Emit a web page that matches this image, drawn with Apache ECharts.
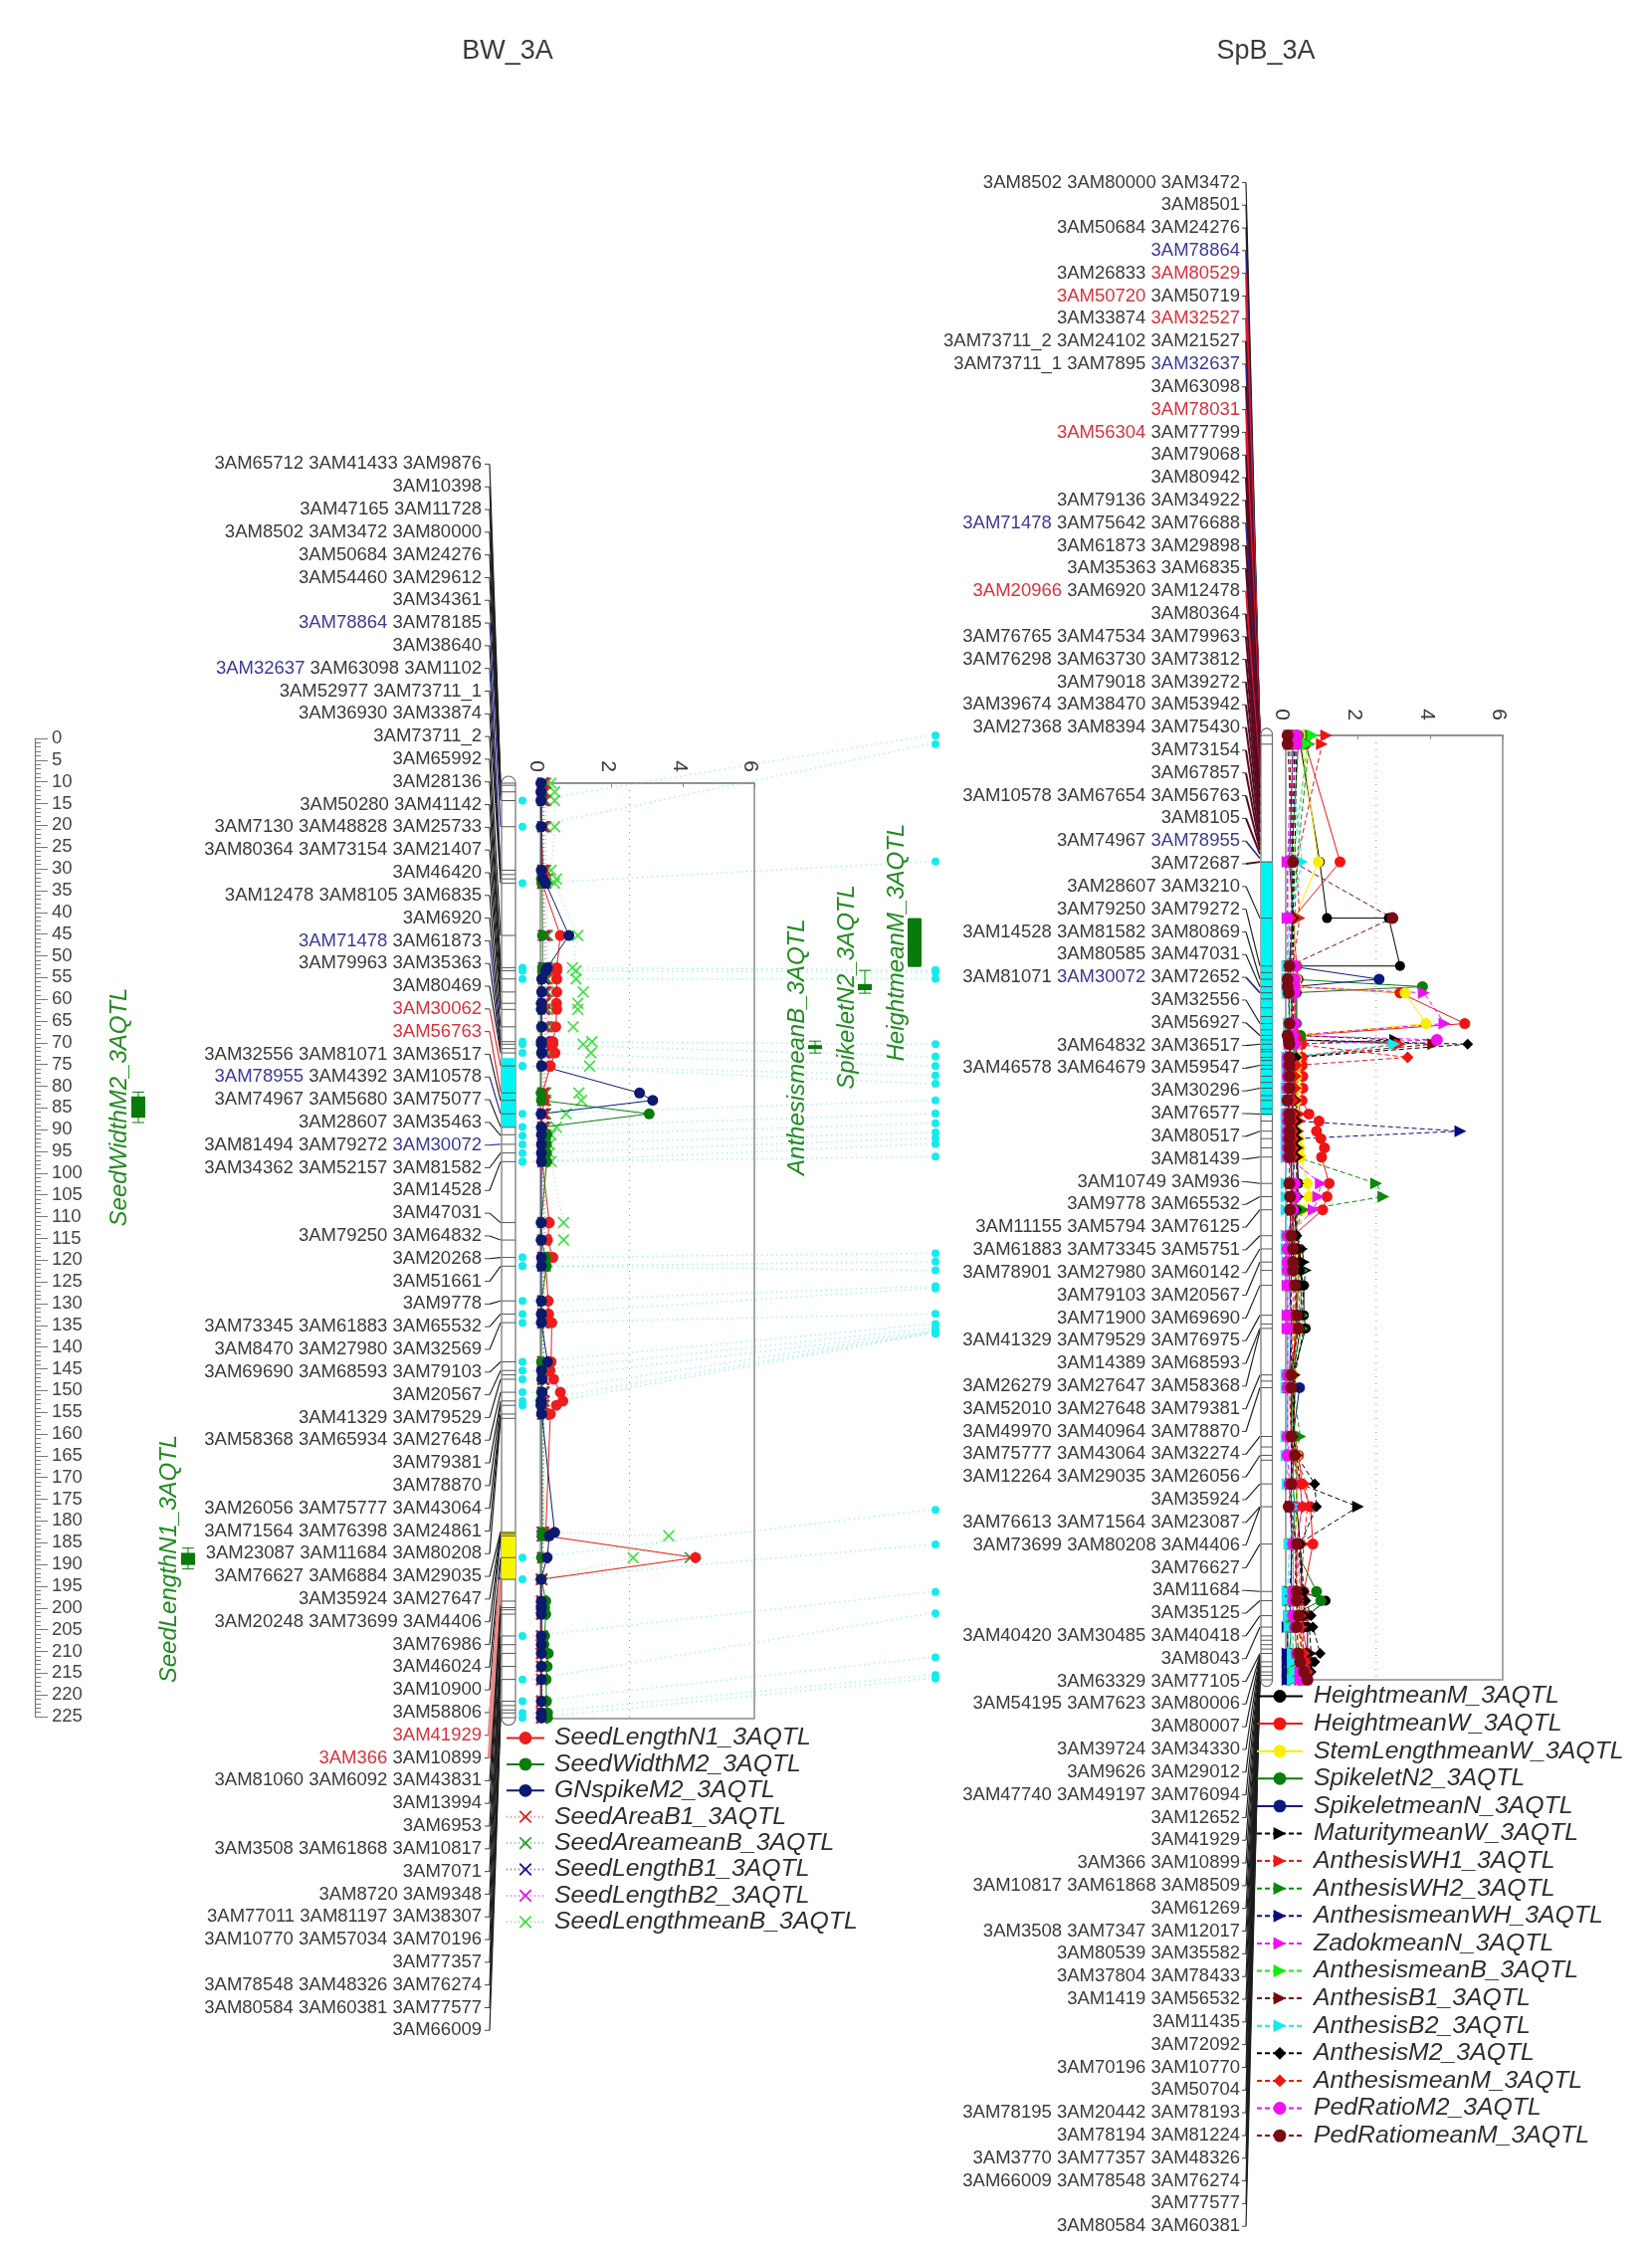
<!DOCTYPE html>
<html><head><meta charset="utf-8">
<style>html,body{margin:0;padding:0;background:#fff}#c{width:1660px;height:2264px}</style>
<script src="https://cdn.jsdelivr.net/npm/echarts@6/dist/echarts.min.js"></script>
</head><body><div id="c"></div>
<script>
/* ---------- DATA ---------- */
const bwLabels = ["3AM65712 3AM41433 3AM9876","3AM10398","3AM47165 3AM11728","3AM8502 3AM3472 3AM80000","3AM50684 3AM24276","3AM54460 3AM29612","3AM34361","3AM78864 3AM78185","3AM38640","3AM32637 3AM63098 3AM1102","3AM52977 3AM73711_1","3AM36930 3AM33874","3AM73711_2","3AM65992","3AM28136","3AM50280 3AM41142","3AM7130 3AM48828 3AM25733","3AM80364 3AM73154 3AM21407","3AM46420","3AM12478 3AM8105 3AM6835","3AM6920","3AM71478 3AM61873","3AM79963 3AM35363","3AM80469","3AM30062","3AM56763","3AM32556 3AM81071 3AM36517","3AM78955 3AM4392 3AM10578","3AM74967 3AM5680 3AM75077","3AM28607 3AM35463","3AM81494 3AM79272 3AM30072","3AM34362 3AM52157 3AM81582","3AM14528","3AM47031","3AM79250 3AM64832","3AM20268","3AM51661","3AM9778","3AM73345 3AM61883 3AM65532","3AM8470 3AM27980 3AM32569","3AM69690 3AM68593 3AM79103","3AM20567","3AM41329 3AM79529","3AM58368 3AM65934 3AM27648","3AM79381","3AM78870","3AM26056 3AM75777 3AM43064","3AM71564 3AM76398 3AM24861","3AM23087 3AM11684 3AM80208","3AM76627 3AM6884 3AM29035","3AM35924 3AM27647","3AM20248 3AM73699 3AM4406","3AM76986","3AM46024","3AM10900","3AM58806","3AM41929","3AM366 3AM10899","3AM81060 3AM6092 3AM43831","3AM13994","3AM6953","3AM3508 3AM61868 3AM10817","3AM7071","3AM8720 3AM9348","3AM77011 3AM81197 3AM38307","3AM10770 3AM57034 3AM70196","3AM77357","3AM78548 3AM48326 3AM76274","3AM80584 3AM60381 3AM77577","3AM66009"];
const bwBlue = ["3AM78864","3AM32637","3AM71478","3AM78955","3AM30072"];
const bwRed = ["3AM30062","3AM56763","3AM41929","3AM366"];
const bwLabelPos = [0,.5,1,2,2.5,3,4,10,20,21,22,23,35,42,43,45,48,50.6,52,56,59,60,61,62,65,71,73,76,79,81,83,85,87,101,105,109,111,119,122,124,133,135,137,140,142,143,145,145.5,146,172,172.5,173,173.5,178,178.5,182.5,183,188,189,189.5,191,196,198,200,203,206,211,213,213.7,214.8];

const spbLabels = ["3AM8502 3AM80000 3AM3472","3AM8501","3AM50684 3AM24276","3AM78864","3AM26833 3AM80529","3AM50720 3AM50719","3AM33874 3AM32527","3AM73711_2 3AM24102 3AM21527","3AM73711_1 3AM7895 3AM32637","3AM63098","3AM78031","3AM56304 3AM77799","3AM79068","3AM80942","3AM79136 3AM34922","3AM71478 3AM75642 3AM76688","3AM61873 3AM29898","3AM35363 3AM6835","3AM20966 3AM6920 3AM12478","3AM80364","3AM76765 3AM47534 3AM79963","3AM76298 3AM63730 3AM73812","3AM79018 3AM39272","3AM39674 3AM38470 3AM53942","3AM27368 3AM8394 3AM75430","3AM73154","3AM67857","3AM10578 3AM67654 3AM56763","3AM8105","3AM74967 3AM78955","3AM72687","3AM28607 3AM3210","3AM79250 3AM79272","3AM14528 3AM81582 3AM80869","3AM80585 3AM47031","3AM81071 3AM30072 3AM72652","3AM32556","3AM56927","3AM64832 3AM36517","3AM46578 3AM64679 3AM59547","3AM30296","3AM76577","3AM80517","3AM81439","3AM10749 3AM936","3AM9778 3AM65532","3AM11155 3AM5794 3AM76125","3AM61883 3AM73345 3AM5751","3AM78901 3AM27980 3AM60142","3AM79103 3AM20567","3AM71900 3AM69690","3AM41329 3AM79529 3AM76975","3AM14389 3AM68593","3AM26279 3AM27647 3AM58368","3AM52010 3AM27648 3AM79381","3AM49970 3AM40964 3AM78870","3AM75777 3AM43064 3AM32274","3AM12264 3AM29035 3AM26056","3AM35924","3AM76613 3AM71564 3AM23087","3AM73699 3AM80208 3AM4406","3AM76627","3AM11684","3AM35125","3AM40420 3AM30485 3AM40418","3AM8043","3AM63329 3AM77105","3AM54195 3AM7623 3AM80006","3AM80007","3AM39724 3AM34330","3AM9626 3AM29012","3AM47740 3AM49197 3AM76094","3AM12652","3AM41929","3AM366 3AM10899","3AM10817 3AM61868 3AM8509","3AM61269","3AM3508 3AM7347 3AM12017","3AM80539 3AM35582","3AM37804 3AM78433","3AM1419 3AM56532","3AM11435","3AM72092","3AM70196 3AM10770","3AM50704","3AM78195 3AM20442 3AM78193","3AM78194 3AM81224","3AM3770 3AM77357 3AM48326","3AM66009 3AM78548 3AM76274","3AM77577","3AM80584 3AM60381"];
const spbBlue = ["3AM78864","3AM32637","3AM71478","3AM78955","3AM30072"];
const spbRed = ["3AM80529","3AM50720","3AM32527","3AM78031","3AM56304","3AM20966"];
const spbLabelPos = [0,0,.5,.5,1,1,1.5,1.5,2,2,2,3,4,5,6,7,8,9,10,12,14,16,18,20,22,24,25,26,27,28,28.8,41.6,52.5,55.5,57.2,58.6,65.6,68.3,70.3,75.1,80.3,86.2,90.1,96,102,105,108,113.9,116.9,119.9,125.2,132,135,135.5,145.6,148.5,159.6,163.9,170.4,175.6,175.8,184.1,194.9,197,200.4,203,209,209.3,209.6,210,210.3,210.6,210.9,211.2,211.5,211.8,212,212.2,212.4,212.6,212.8,213,213.2,213.4,213.6,213.8,214,214.3,214.6,215,215];

const bwPos = [0,2,4,10,20,22,23,35,42.4,43.1,45,48,50.6,52,56,59.4,60,62,65,71.2,72.9,76,79.1,80.8,83,85,87,101,105,109,111,119,122,124,133,135,137,140,142,143,145,172.2,173,178,183,188,189.5,191,196,198,200,203,206,211,213.7,214.8];
const seedLengthN1 = [.02,.02,.02,.03,.08,.05,.05,.56, .46,.46,.46,.46,.45,.46,.43,.35, .35,.41,.28,.06,.1,.05,.05,.05, .05,.05,.05,.25,.2,.35,.15,.22, .23,.32,.3,.27,.37,.56,.63,.45, .28,.15,.15,4.35,.02,.03,.03,.03, .03,.03,.03,.03,.03,.03,.03,.03];
const seedWidthM2 = [.03,.03,.03,.03,.03,.03,.05,.06, .06,.06,.05,.04,.03,.03,.03,.03, .03,.03,.03,.02,.03,3.05,.03,.18, .17,.17,.18,.02,.02,.15,.17,.03, .03,.03,.03,.04,.04,.03,.02,.02, .03,.05,.05,.03,.03,.15,.12,.15, .12,.1,.22,.19,.16,.17,.2,.2];
const gnSpikeM2 = [.02,.02,.02,.03,.03,.07,.15,.8, .2,.15,.04,.04,.03,.03,.04,.03, .03,.04,.04,2.78,3.15,.02,.03,.03, .03,.03,.03,.03,.03,.03,.03,.03, .03,.03,.2,.03,.05,.05,.02,.02, .04,.4,.25,.19,.02,.03,.03,.03, .03,.03,.03,.03,.03,.03,.03,.03];
const seedAreaB1 = [.1,.1,.1,.1,.1,.12,.1,.15, .15,.15,.15,.15,.12,.12,.12,.15, .12,.15,.15,.1,.1,.12,.1,.1, .08,.08,.08,.12,.12,.1,.1,.1, .1,.1,.1,.1,.1,.1,.1,.1, .1,.08,.08,.1,.04,.05,.05,.05, .05,.05,.05,.05,.05,.05,.05,.05];
const seedAreameanB = [.15,.15,.15,.15,.15,.2,.15,.2, .2,.2,.2,.2,.15,.2,.2,.2, .2,.2,.2,.15,.15,.15,.15,.15, .1,.1,.1,.15,.15,.1,.1,.1, .1,.1,.1,.1,.1,.1,.1,.1, .1,.08,.08,4.2,.04,.05,.05,.05, .05,.05,.05,.05,.05,.05,.05,.05];
const seedLengthB1 = [.08,.08,.08,.08,.08,.1,.08,.12, .12,.12,.1,.12,.12,.12,.18,.12, .12,.12,.12,.1,.1,.08,.08,.08, .08,.08,.08,.1,.1,.08,.08,.08, .08,.08,.08,.08,.08,.08,.08,.08, .08,.06,.06,.08,.03,.04,.04,.04, .04,.04,.04,.04,.04,.04,.04,.04];
const seedLengthB2 = [.06,.06,.06,.06,.06,.06,.06,.08, .08,.08,.08,.08,.08,.08,.08,.08, .08,.08,.08,.06,.06,.06,.06,.06, .06,.06,.06,.06,.06,.06,.06,.06, .06,.06,.06,.06,.06,.06,.06,.06, .06,.05,.05,.06,.03,.03,.03,.03, .03,.03,.03,.03,.03,.03,.03,.03];
const seedLengthmeanB = [.3,.4,.4,.4,.3,.45,.4,1.05, .9,1,1,1.2,1.05,1.05,.92,1.45, 1.2,1.42,1.38,1.08,1.15,.72,.45,.3, .25,.25,.3,.65,.65,.15,.15,.1, .1,.1,.1,.1,.1,.1,.1,.1, .1,.1,3.6,2.6,.05,.05,.05,.05, .05,.05,.05,.05,.05,.05,.05,.05];

const spbPos = [0,2,28.8,41.6,52.5,55.5,57.2,58.6, 65.6,68.3,69.3,70.3,73.3,75.1,77.6,80.3, 83.1,86.2,87.8,90.1,91.8,93.9,96,102, 105,108,113.9,116.9,119.9,121.8,125.2,132, 135,145.6,148.5,159.6,163.9,170.4,175.6,184.1, 194.9,197,200.4,203,209,210.9,213.2,215];
const heightmeanMPos = [0,2,28.8,41.6,41.6,52.5,52.5,55.5,57.2,58.6, 65.6,68.3,69.3,70.3,73.3,75.1,77.6,80.3,83.1,86.2, 87.8,90.1,91.8,93.9,96,102,105,108,113.9,116.9, 119.9,121.8,125.2,132,135,145.6,148.5,159.6,163.9,170.4, 175.6,184.1,194.9,197,200.4,203,209,210.9,213.2,215];
const heightmeanM = [.4,.4,.94,1.14,2.85,3.16,.3,.35,.3,.3, .3,.35,.3,.3,.3,.3,.35,.3,.3,.3, .3,.3,.3,.3,.3,.36,.3,.25,.28,.4, .4,.4,.5,.5,.55,.2,.25,.2,.3,.3, .3,.4,.45,1.1,.6,.6,.6,.7,.6,.6];
const heightmeanW = [.5,.55,1.5,.2,.3,.3,.3,3.16, 4.95,.4,.42,.44,.45,.45,.47,.47, .45,.64,.92,.85,.97,1.07,.99,1.2, 1.14,1.02,.2,.35,.35,.35,.35,.3, .3,.2,.2,.25,.35,.45,.68,.75, .5,.5,.55,.45,.6,.55,.6,.5];
const stemLengthmeanW = [.45,.45,.9,.25,.25,.3,.3,3.3, 3.88,.35,.3,.3,.3,.3,.3,.3, .3,.3,.3,.3,.35,.38,.41,.6, .64,.44,.2,.3,.3,.3,.3,.25, .25,.2,.2,.2,.3,.3,.3,.25, .3,.3,.35,.3,.4,.4,.4,.35];
const spikeletN2 = [.35,.35,.15,.2,.1,.15,3.78,.2, .15,.4,.3,.25,.2,.2,.2,.2, .2,.2,.2,.2,.2,.2,.2,.2, .2,.2,.2,.2,.2,.25,.3,.3, .3,.15,.15,.25,.2,.2,.25,.2, .85,.97,.15,.15,.1,.05,.05,.05];
const spikeletmeanN = [.2,.2,.1,.2,.1,2.58,.2,.15, .15,.1,.15,.15,.1,.1,.15,.15, .2,.15,.15,.15,.15,.15,.15,.15, .15,.15,.1,.1,.1,.1,.1,.15, .15,.1,.38,.2,.15,.15,.15,.15, .15,.15,.1,.05,.05,.05,.05,.05];
const maturitymeanW = [.3,.3,.25,.2,.2,.2,.2,.25, .25,.3,3.03,.3,.25,.25,.25,.25, .3,.3,.35,.3,.3,.3,.3,.35, .35,.3,.3,.45,.5,.55,.5,.45, .5,.25,.25,.2,.3,.4,2,.35, .45,.4,.6,.65,.7,.65,.6,.55];
const anthesisWH1 = [1.12,1,.3,.38,.2,.2,.2,.25, .25,.3,.3,3.16,.3,.3,.3,.3, .35,.4,.4,.35,.35,.35,.35,.3, .3,.25,.2,.2,.2,.25,.25,.25, .25,.2,.2,.2,.3,.55,.6,.5, .4,.4,.45,.45,.5,.5,.45,.4];
const anthesisWH2 = [.7,.65,.3,.25,.2,.2,.25,.25, .3,.35,.35,.3,.25,.25,.25,.25, .25,.25,.25,.25,.3,.3,.3,2.5, 2.7,.5,.2,.3,.35,.4,.4,.35, .4,.2,.2,.4,.25,.3,.3,.25, .3,.3,.3,.25,.3,.3,.25,.25];
const anthesismeanWH = [.25,.25,.15,.2,.15,.15,.15,.15, .2,.2,.2,.2,.2,.2,.2,.2, .25,.25,.3,4.83,.3,.3,.25,.2, .2,.2,.15,.15,.15,.15,.15,.15, .15,.15,.15,.15,.15,.15,.15,.2, .1,.1,.1,.05,.05,.05,.05,.05];
const zadokmeanN = [.15,.15,.05,.05,.05,.05,.05,3.82, 4.39,.1,.1,.1,.05,.05,.05,.05, .05,.05,.05,.05,.05,.05,.05,.97, .9,.77,.05,.05,.05,.05,.05,.05, .05,.05,.05,.05,.1,.4,.45,.3, .4,.45,.4,.4,.45,.45,.4,.4];
const anthesismeanB = [.75,.6,.2,.15,.15,.15,.15,.15, .15,.2,.2,.2,.15,.15,.15,.15, .15,.15,.15,.2,.2,.2,.2,.2, .2,.2,.15,.2,.25,.45,.4,.45, .45,.15,.15,.2,.2,.2,.2,.2, .2,.2,.2,.2,.2,.2,.2,.2];
const anthesisB1 = [.1,.1,.2,.15,.1,.1,.1,.1, .1,.1,.1,4.08,.15,.1,.1,.1, .1,.1,.15,.15,.15,.15,.15,.15, .2,.2,.2,.25,.25,.25,.3,.3, .35,.1,.1,.15,.2,.15,.15,.3, .25,.3,.35,.35,.45,.45,.5,.5];
const anthesisB2 = [.1,.1,.45,.1,.05,.05,.05,.05, .1,.1,.1,3,.05,.05,.05,.02, .02,.02,.02,.02,.02,.02,.02,.02, .02,.02,.02,.02,.05,.05,.1,.1, .1,.02,.02,.02,.02,.05,.3,.1, .05,.05,.1,.1,.2,.2,.25,.2];
const anthesisM2 = [.25,.25,.2,.2,.2,.2,.2,.2, .2,.25,.25,5.03,.3,.25,.25,.25, .25,.25,.3,.3,.3,.3,.3,.3, .3,.3,.3,.35,.4,.4,.45,.4, .4,.2,.2,.2,.3,.8,.85,.4, .5,.55,.7,.75,.95,.8,.7,.6];
const anthesismeanM = [.2,.2,.15,.15,.15,.15,.15,.15, .2,.3,.3,.3,3.37,.3,.25,.25, .2,.2,.2,.2,.2,.2,.2,.2, .2,.2,.15,.15,.2,.2,.2,.2, .2,.15,.15,.15,.2,.4,.45,.3, .3,.35,.4,.4,.5,.55,.6,.5];
const pedRatioM2 = [.3,.3,.05,.05,.25,.25,.25,.25, .25,.2,4.18,.25,.05,.05,.05,.05, .05,.05,.05,.05,.05,.05,.05,.25, .25,.2,.05,.05,.05,.05,.05,.05, .05,.05,.05,.05,.05,.1,.1,.2, .2,.2,.2,.25,.3,.4,.4,.4];
const pedRatiomeanM = [.05,.05,.2,2.95,.1,.05,.05,.08, .1,.05,.08,.1,.1,.1,.1,.1, .05,.1,.1,.1,.1,.1,.1,.1, .12,.12,.15,.2,.2,.2,.25,.3, .35,.15,.15,.15,.25,.15,.08,.3, .3,.3,.35,.3,.35,.4,.5,.6];

/* homologous marker pairs: position on BW_3A, position on SpB_3A */
const homologBw = [4,10,23,42.4,43.1,45,59.4,60,62,65,65,76,79,81,83,85,87,87,109,111,111,119,122,124,133,135,137,140,142,143,178,183,196,206,211,213.7,214.8];
const homologSpb = [0,2,28.7,53.4,53.9,55.4,70.3,73.1,75.3,77.4,79.3,83.1,86.1,88.3,90.4,91.7,93,95.9,117.9,119.8,121.8,125.4,125.9,131.7,134,135,135.7,135.9,136,136.2,176.3,184.2,195,199.9,209.9,213.9,214.7];

const bwExtraTicks = [.5,21,61,136,146,172.5,190,212,213];
const spbExtraTicks = [54,60,62,64,67,71.5,72,74,76,79,82,85,134,147,162,165,205,206,207,208,212,214];

const qtlNames = ["SeedWidthM2_3AQTL","SeedLengthN1_3AQTL","AnthesismeanB_3AQTL","SpikeletN2_3AQTL","HeightmeanM_3AQTL"];
const qtlFrom = [72,176.9,70.5,56.6,41.7];
const qtlTo = [76.9,179.7,71.4,58,52.6];
const qtlLow = [71,175.8,69.6,53.5,41.7];
const qtlHigh = [78,180.6,72.3,58.7,52.6];
const bwCyanZone=[63.2,79], bwYellowZone=[172,183], spbCyanZone=[28.7,86.5];
const threshold=2.5;

/* ---------- LAYOUT ---------- */
const FONT='"Liberation Sans",Arial,sans-serif';
const qtlLaneX=[139,189,819,869,919], qtlAxis=[1,1,2,2,2], qtlTextX=[120,170,801,851,901];
const BW={stub0:487,stub1:492,chr0:504,chr1:518,dotL:525,dotR:940};
const SP={stub0:1248,stub1:1252,chr0:1267,chr1:1278.5};
const LBL=18.5;

const chart=echarts.init(document.getElementById('c'),null,{renderer:'canvas'});
const XS='path://M1 0L5 4L9 0L10 1L6 5L10 9L9 10L5 6L1 10L0 9L4 5L0 1Z';
const TR='path://M0 0L10 5L0 10Z';

function fmt(blue,red){return v=>v.split(' ').map(n=>blue.includes(n)?`{b|${n}}`:red.includes(n)?`{r|${n}}`:`{k|${n}}`).join(' ');}
const rich={b:{color:'#3a3a94',fontSize:LBL,fontFamily:FONT},r:{color:'#d8323c',fontSize:LBL,fontFamily:FONT},k:{color:'#3a3a3a',fontSize:LBL,fontFamily:FONT}};
function labelAxis(grid,data,blue,red){return {type:'category',gridIndex:grid,inverse:true,data,axisLine:{show:false},axisTick:{show:false},
  axisLabel:{interval:0,margin:0,formatter:fmt(blue,red),rich,fontSize:LBL,fontFamily:FONT,color:'#3a3a3a',hideOverlap:false}};}
function mapAxis(grid,max){return {type:'value',gridIndex:grid,inverse:true,min:0,max,show:false};}
function lodAxis(grid,margin){return {type:'value',gridIndex:grid,position:'top',min:0,max:6,interval:2,
  axisLine:{show:true,lineStyle:{color:'#8a8a8a',width:1.5}},axisTick:{show:true,length:4,inside:true,lineStyle:{color:'#8a8a8a'}},splitLine:{show:false},
  axisLabel:{rotate:-90,fontSize:21,fontFamily:FONT,color:'#3a3a3a',margin,verticalAlign:'top',lineHeight:8,formatter:v=>String(v)}};}
function hid(grid){return {type:'value',gridIndex:grid,show:false,min:0,max:1};}

function lineS(name,xy,yi,color,symbol,size,lt,width,z,lineOpacity){
  return {name,type:'line',xAxisIndex:yi,yAxisIndex:yi,data:xy,color,symbol,symbolSize:size,clip:false,animation:false,z,
    lineStyle:{color,width:width||1,type:lt||'solid',opacity:lineOpacity==null?1:lineOpacity},itemStyle:{color,opacity:1},emphasis:{disabled:true}};}
const zip=(pos,v)=>pos.map((p,i)=>[v[i],p]);

function connectors(name,labelPos,labels,blue,red,xi,labelYi,L,styleOf){
  return {name,type:'custom',xAxisIndex:xi,yAxisIndex:xi,z:1,silent:true,
    data:labelPos.map((p,i)=>[i,p]),
    renderItem(params,api){
      const i=api.value(0),p=api.value(1);
      const y1=chart.convertToPixel({yAxisIndex:labelYi},i);
      const y2=api.coord([0,p])[1];
      const names=labels[i].split(' ');
      const s=styleOf(i,names.some(n=>red.includes(n)),names.some(n=>blue.includes(n)));
      return {type:'group',children:[
        {type:'line',shape:{x1:L.stub0,y1,x2:L.stub1,y2:y1},style:{stroke:'#444',lineWidth:1}},
        {type:'line',shape:{x1:L.stub1,y1,x2:L.chr0-1,y2},style:{stroke:s[0],lineWidth:s[1]}}]};
    }};
}
const bwConnStyle=(i,isRed,isBlue)=>isRed?(i>=56?['#ea8a8a',4.5]:['#d83a40',1.3]):isBlue?['#3a3a94',1.3]:['#1c1c1c',1.15];
const spConnStyle=(i,isRed,isBlue)=>isRed?['#d81c2c',1.8]:isBlue?['#2a2a80',1.6]:(i>=6&&i<31?['#5a0a20',2]:['#1c1c1c',1.15]);

function chromosome(name,xi,L,zones,ticks,from,to){
  return {name,type:'custom',xAxisIndex:xi,yAxisIndex:xi,z:3,silent:true,data:[[0,0]],
    renderItem(params,api){
      const Y=p=>api.coord([0,p])[1],w=L.chr1-L.chr0,ch=[];
      ch.push({type:'rect',shape:{x:L.chr0,y:Y(from),width:w,height:Y(to)-Y(from),r:7},style:{fill:'#fff',stroke:'#6e6e6e',lineWidth:1.2}});
      zones.forEach(z=>ch.push({type:'rect',shape:{x:L.chr0,y:Y(z[0]),width:w,height:Y(z[1])-Y(z[0])},style:{fill:z[2],stroke:null}}));
      ticks.forEach(p=>ch.push({type:'line',shape:{x1:L.chr0,y1:Y(p),x2:L.chr1,y2:Y(p)},style:{stroke:'#555',lineWidth:1}}));
      return {type:'group',children:ch};
    }};
}
const homologSeries={name:'homolog',type:'custom',xAxisIndex:1,yAxisIndex:1,z:2,silent:true,
  data:homologBw.map((p,i)=>[p,homologSpb[i]]),
  renderItem(params,api){
    const y1=api.coord([0,api.value(0)])[1];
    const y2=chart.convertToPixel({yAxisIndex:2},api.value(1));
    return {type:'group',children:[
      {type:'line',shape:{x1:BW.dotL+10,y1,x2:BW.dotR-6,y2},style:{stroke:'#52e4e4',lineWidth:1.5,lineDash:[1.5,3.5],opacity:.5}},
      {type:'circle',shape:{cx:BW.dotL,cy:y1,r:4},style:{fill:'#14ecec'}},
      {type:'circle',shape:{cx:BW.dotR,cy:y2,r:4},style:{fill:'#14ecec'}}]};
  }};
const qtlSeries={name:'qtl',type:'custom',xAxisIndex:1,yAxisIndex:1,z:4,silent:true,
  data:qtlNames.map((n,i)=>[i,qtlFrom[i]]),
  renderItem(params,api){
    const i=api.value(0),ax=qtlAxis[i],Y=p=>chart.convertToPixel({yAxisIndex:ax},p);
    const x=qtlLaneX[i],y0=Y(qtlFrom[i]),y1=Y(qtlTo[i]),a=Y(qtlLow[i]),b=Y(qtlHigh[i]);
    return {type:'group',children:[
      {type:'line',shape:{x1:x,y1:a,x2:x,y2:b},style:{stroke:'#0a7a0a',lineWidth:1}},
      {type:'line',shape:{x1:x-6,y1:a,x2:x+6,y2:a},style:{stroke:'#0a7a0a',lineWidth:1}},
      {type:'line',shape:{x1:x-6,y1:b,x2:x+6,y2:b},style:{stroke:'#0a7a0a',lineWidth:1}},
      {type:'rect',shape:{x:x-7,y:y0,width:14,height:y1-y0},style:{fill:'#067a0a'}},
      {type:'text',x:qtlTextX[i],y:(y0+y1)/2,rotation:Math.PI/2,style:{text:qtlNames[i],align:'center',verticalAlign:'middle',fontSize:24,fontStyle:'italic',fontFamily:FONT,fill:'#228b22'}}]};
  }};

const DSH=[5,3];
const bwLegend=['SeedLengthN1_3AQTL','SeedWidthM2_3AQTL','GNspikeM2_3AQTL','SeedAreaB1_3AQTL','SeedAreameanB_3AQTL','SeedLengthB1_3AQTL','SeedLengthB2_3AQTL','SeedLengthmeanB_3AQTL'];
const spLegend=['HeightmeanM_3AQTL','HeightmeanW_3AQTL','StemLengthmeanW_3AQTL','SpikeletN2_3AQTL','SpikeletmeanN_3AQTL','MaturitymeanW_3AQTL','AnthesisWH1_3AQTL','AnthesisWH2_3AQTL','AnthesismeanWH_3AQTL','ZadokmeanN_3AQTL','AnthesismeanB_3AQTL','AnthesisB1_3AQTL','AnthesisB2_3AQTL','AnthesisM2_3AQTL','AnthesismeanM_3AQTL','PedRatioM2_3AQTL','PedRatiomeanM_3AQTL'];

const thr=(yi,max)=>({name:'thr'+yi,type:'line',xAxisIndex:yi,yAxisIndex:yi,data:[[threshold,0],[threshold,max]],symbol:'none',z:5,clip:false,lineStyle:{color:'#8c8c8c',width:1,type:[1,6]}});

chart.setOption({
  animation:false,backgroundColor:'#fff',
  title:[
    {text:'BW_3A',left:505,top:33,textAlign:'center',textStyle:{fontSize:27,fontWeight:'normal',fontFamily:FONT,color:'#3a3a3a'}},
    {text:'SpB_3A',left:1267,top:33,textAlign:'center',textStyle:{fontSize:27,fontWeight:'normal',fontFamily:FONT,color:'#3a3a3a'}}],
  grid:[
    {left:35,top:742,width:1,height:983},
    {left:543,top:787,width:215,height:940,show:true,borderColor:'#8a8a8a',borderWidth:1.5,backgroundColor:'transparent'},
    {left:1292,top:739,width:218,height:949,show:true,borderColor:'#8a8a8a',borderWidth:1.5,backgroundColor:'transparent'},
    {left:484,top:465-10,width:2,height:70*22.81},
    {left:1246,top:182-10,width:2,height:91*22.82}],
  xAxis:[hid(0),lodAxis(1,11),lodAxis(2,15),hid(3),hid(4)],
  yAxis:[
    {type:'value',gridIndex:0,inverse:true,min:0,max:225,interval:5,position:'left',
     axisLine:{show:true,lineStyle:{color:'#777',width:1.2}},
     axisTick:{show:true,inside:true,length:13,lineStyle:{color:'#777'}},
     minorTick:{show:true,splitNumber:5,length:6,lineStyle:{color:'#777'}},splitLine:{show:false},
     axisLabel:{inside:true,margin:17,fontSize:18.5,fontFamily:FONT,color:'#444',showMaxLabel:true,hideOverlap:false}},
    mapAxis(1,215),mapAxis(2,215),
    labelAxis(3,bwLabels,bwBlue,bwRed),labelAxis(4,spbLabels,spbBlue,spbRed)],
  legend:[
    {data:bwLegend,orient:'vertical',left:508,top:1734,itemWidth:38,itemHeight:16,itemGap:1.4,selectedMode:false,
     textStyle:{fontSize:24.8,fontStyle:'italic',fontFamily:FONT,color:'#2d2d2d',padding:[0,0,0,5]},padding:0},
    {data:spLegend,orient:'vertical',left:1262,top:1692,itemWidth:46,itemHeight:16,itemGap:2.6,selectedMode:false,
     textStyle:{fontSize:24.8,fontStyle:'italic',fontFamily:FONT,color:'#2d2d2d',padding:[0,0,0,6]},padding:0}],
  series:[
    connectors('bwConn',bwLabelPos,bwLabels,bwBlue,bwRed,1,3,BW,bwConnStyle),
    connectors('spConn',spbLabelPos,spbLabels,spbBlue,spbRed,2,4,SP,spConnStyle),
    homologSeries,
    chromosome('bwChr',1,BW,[[...bwCyanZone,'#00f4f4'],[...bwYellowZone,'#f8f400']],bwPos.concat(bwExtraTicks),-1.6,216.5),
    chromosome('spChr',2,SP,[[...spbCyanZone,'#00f4f4']],spbPos.concat(spbExtraTicks),-1.6,216.5),
    qtlSeries,
    thr(1,215),thr(2,215),
    lineS('SeedLengthmeanB_3AQTL',zip(bwPos,seedLengthmeanB),1,'#44e044',XS,12,[1,3],.9,6,.7),
    lineS('SeedLengthB2_3AQTL',zip(bwPos,seedLengthB2),1,'#e020e0',XS,12,[1,3],.9,6,.6),
    lineS('SeedLengthB1_3AQTL',zip(bwPos,seedLengthB1),1,'#1a1a80',XS,12,[1,3],.9,6,.6),
    lineS('SeedAreameanB_3AQTL',zip(bwPos,seedAreameanB),1,'#30a030',XS,12,[1,3],.9,6,.6),
    lineS('SeedAreaB1_3AQTL',zip(bwPos,seedAreaB1),1,'#e02020',XS,12,[1,3],.9,6,.6),
    lineS('SeedLengthN1_3AQTL',zip(bwPos,seedLengthN1),1,'#ee1c1c','circle',11,'solid',1,7),
    lineS('SeedWidthM2_3AQTL',zip(bwPos,seedWidthM2),1,'#0a7d0a','circle',11,'solid',1,7),
    lineS('GNspikeM2_3AQTL',zip(bwPos,gnSpikeM2),1,'#0a1a70','circle',11,'solid',1,7),
    lineS('HeightmeanM_3AQTL',zip(heightmeanMPos,heightmeanM),2,'#000','circle',10,'solid',1,7),
    lineS('HeightmeanW_3AQTL',zip(spbPos,heightmeanW),2,'#f01414','circle',11,'solid',1,7),
    lineS('StemLengthmeanW_3AQTL',zip(spbPos,stemLengthmeanW),2,'#f6f000','circle',11,'solid',1,7),
    lineS('SpikeletN2_3AQTL',zip(spbPos,spikeletN2),2,'#0a7d0a','circle',11,'solid',1,7),
    lineS('SpikeletmeanN_3AQTL',zip(spbPos,spikeletmeanN),2,'#0a1a80','circle',11,'solid',1,7),
    lineS('MaturitymeanW_3AQTL',zip(spbPos,maturitymeanW),2,'#000',TR,12,DSH,1,7),
    lineS('AnthesisWH1_3AQTL',zip(spbPos,anthesisWH1),2,'#f01414',TR,12,DSH,1,7),
    lineS('AnthesisWH2_3AQTL',zip(spbPos,anthesisWH2),2,'#0a8a0a',TR,12,DSH,1,7),
    lineS('AnthesismeanWH_3AQTL',zip(spbPos,anthesismeanWH),2,'#0a0a80',TR,12,DSH,1,7),
    lineS('ZadokmeanN_3AQTL',zip(spbPos,zadokmeanN),2,'#f010f0',TR,12,DSH,1,7),
    lineS('AnthesismeanB_3AQTL',zip(spbPos,anthesismeanB),2,'#10f010',TR,12,DSH,1,7),
    lineS('AnthesisB1_3AQTL',zip(spbPos,anthesisB1),2,'#7a0a0a',TR,12,DSH,1,7),
    lineS('AnthesisB2_3AQTL',zip(spbPos,anthesisB2),2,'#10eaf0',TR,12,DSH,1,7),
    lineS('AnthesisM2_3AQTL',zip(spbPos,anthesisM2),2,'#000','diamond',11,DSH,1,7),
    lineS('AnthesismeanM_3AQTL',zip(spbPos,anthesismeanM),2,'#f01414','diamond',12,DSH,1,7),
    lineS('PedRatioM2_3AQTL',zip(spbPos,pedRatioM2),2,'#f010f0','circle',12,DSH,1,7),
    lineS('PedRatiomeanM_3AQTL',zip(spbPos,pedRatiomeanM),2,'#7a0a14','circle',12,DSH,1,7)
  ]
});
</script></body></html>
